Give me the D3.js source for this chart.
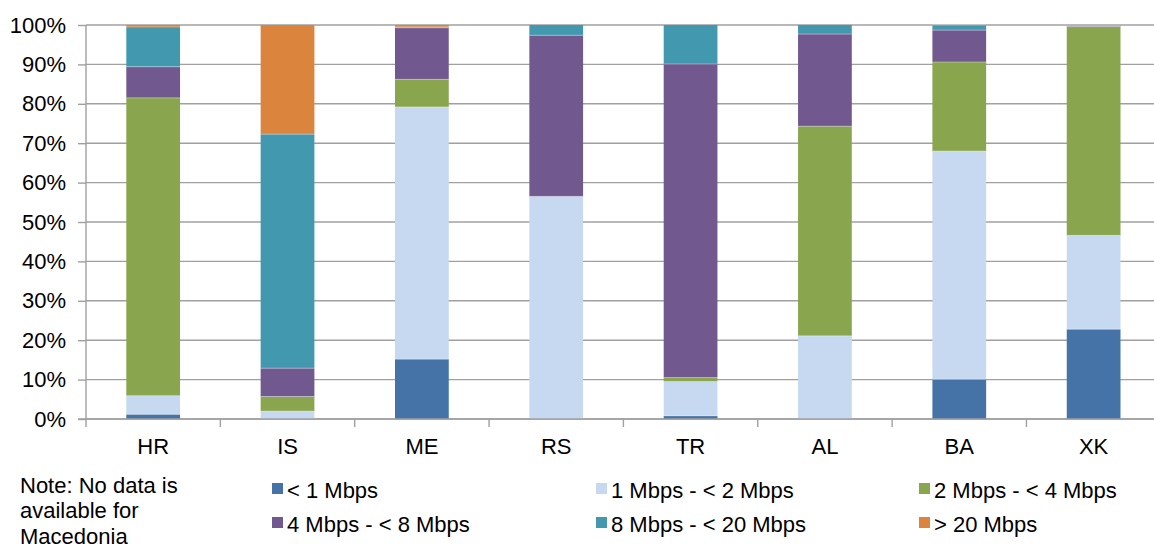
<!DOCTYPE html>
<html>
<head>
<meta charset="utf-8">
<script src="https://cdn.jsdelivr.net/npm/d3@7"></script>
<style>
  html, body { margin: 0; padding: 0; background: #fff; }
  svg { display: block; font-family: "Liberation Sans", Arial, sans-serif; }
</style>
</head>
<body>
<svg id="chart" width="1154" height="544"></svg>
<script>
// Country codes along the x axis
const categories = ["HR", "IS", "ME", "RS", "TR", "AL", "BA", "XK"];

// Share of lines per speed band (%), one value per country
const under1 = [1.2, 0, 15.2, 0, 0.8, 0, 10.1, 22.8];
const from1to2 = [4.7, 2.0, 64.0, 56.5, 8.7, 21.1, 57.9, 23.8];
const from2to4 = [75.6, 3.7, 7.0, 0, 1.0, 53.2, 22.6, 53.0];
const from4to8 = [7.9, 7.2, 13.1, 40.9, 79.6, 23.4, 8.1, 0.2];
const from8to20 = [10.1, 59.4, 0.2, 2.6, 9.9, 2.3, 1.3, 0];
const over20 = [0.5, 27.7, 0.5, 0, 0, 0, 0, 0.2];

const seriesNames = ["< 1 Mbps", "1 Mbps - < 2 Mbps", "2 Mbps - < 4 Mbps",
                     "4 Mbps - < 8 Mbps", "8 Mbps - < 20 Mbps", "> 20 Mbps"];
const seriesValues = [under1, from1to2, from2to4, from4to8, from8to20, over20];
const colors = ["#4572A7", "#C6D9F1", "#89A54E", "#71588F", "#4198AF", "#DB843D"];

const yTicks = [0, 10, 20, 30, 40, 50, 60, 70, 80, 90, 100];
const noteLines = ["Note: No data is", "available for", "Macedonia"];

const svg = d3.select("#chart");
const plotLeft = 86, plotRight = 86 + 8 * 134.35, plotTop = 25, plotBottom = 419;
const fontSize = 22;

const x = d3.scaleBand().domain(categories).range([plotLeft, plotRight])
  .paddingInner(0.6).paddingOuter(0.3);
const y = d3.scaleLinear().domain([0, 100]).range([plotBottom, plotTop]);

// table for the stack layout
const keys = seriesNames;
const table = categories.map((c, i) => {
  const row = { cat: c };
  keys.forEach((k, j) => row[k] = seriesValues[j][i]);
  return row;
});
const stacked = d3.stack().keys(keys)(table);

// gridlines
svg.append("g")
  .selectAll("line")
  .data(yTicks)
  .join("line")
  .attr("x1", plotLeft).attr("x2", 1154)
  .attr("y1", d => y(d)).attr("y2", d => y(d))
  .attr("stroke", "#a0a0a0").attr("stroke-width", 1.4);

// bars
svg.append("g")
  .selectAll("g")
  .data(stacked)
  .join("g")
  .attr("fill", (d, i) => colors[i])
  .selectAll("rect")
  .data(d => d)
  .join("rect")
  .attr("x", d => x(d.data.cat))
  .attr("width", x.bandwidth())
  .attr("y", d => y(d[1]))
  .attr("height", d => Math.max(0, y(d[0]) - y(d[1])));

// thin separators between stacked segments
svg.append("g")
  .selectAll("g")
  .data(stacked)
  .join("g")
  .selectAll("line")
  .data(d => d.filter(s => s[1] - s[0] > 0 && s[1] < 100))
  .join("line")
  .attr("x1", d => x(d.data.cat)).attr("x2", d => x(d.data.cat) + x.bandwidth())
  .attr("y1", d => y(d[1])).attr("y2", d => y(d[1]))
  .attr("stroke", "#ffffff").attr("stroke-opacity", 0.45).attr("stroke-width", 0.8);

// y axis
const yAxis = d3.axisLeft(y).tickValues(yTicks).tickSize(8).tickPadding(12)
  .tickFormat(d => d + "%");
const gy = svg.append("g").attr("transform", `translate(${plotLeft},0)`).call(yAxis);
gy.select(".domain").attr("stroke", "#a0a0a0").attr("stroke-width", 1.4)
  .attr("d", `M0,${plotTop}V${plotBottom}`);
gy.selectAll(".tick line").attr("stroke", "#a0a0a0").attr("stroke-width", 1.4);
gy.selectAll(".tick text").attr("font-size", fontSize).attr("fill", "#000")
  .attr("font-family", "Liberation Sans, Arial, sans-serif");

// x axis line and boundary ticks
svg.append("line").attr("x1", plotLeft - 8).attr("x2", 1154)
  .attr("y1", plotBottom).attr("y2", plotBottom)
  .attr("stroke", "#a0a0a0").attr("stroke-width", 1.4);
const bounds = categories.map(c => x(c) - x.step() * x.paddingOuter());
svg.append("g").selectAll("line").data(bounds).join("line")
  .attr("x1", d => d).attr("x2", d => d)
  .attr("y1", plotBottom).attr("y2", plotBottom + 8)
  .attr("stroke", "#a0a0a0").attr("stroke-width", 1.4);

svg.append("g").selectAll("text").data(categories).join("text")
  .attr("x", d => x(d) + x.bandwidth() / 2)
  .attr("y", 454)
  .attr("text-anchor", "middle")
  .attr("font-size", fontSize).attr("fill", "#000")
  .text(d => d);

// note
svg.append("g").selectAll("text").data(noteLines).join("text")
  .attr("x", 20).attr("y", (d, i) => 492.5 + i * 25.5)
  .attr("font-size", fontSize).attr("fill", "#000")
  .text(d => d);

// legend
const legendCols = [272, 596, 919];
const legendRows = [483, 517];
const legend = svg.append("g").selectAll("g").data(seriesNames).join("g")
  .attr("transform", (d, i) => `translate(${legendCols[i % 3]},${legendRows[Math.floor(i / 3)]})`);
legend.append("rect").attr("width", 11).attr("height", 11)
  .attr("fill", (d, i) => colors[i]);
legend.append("text").attr("x", 15).attr("y", 14.5)
  .attr("font-size", fontSize).attr("fill", "#000")
  .text(d => d);
</script>
</body>
</html>
